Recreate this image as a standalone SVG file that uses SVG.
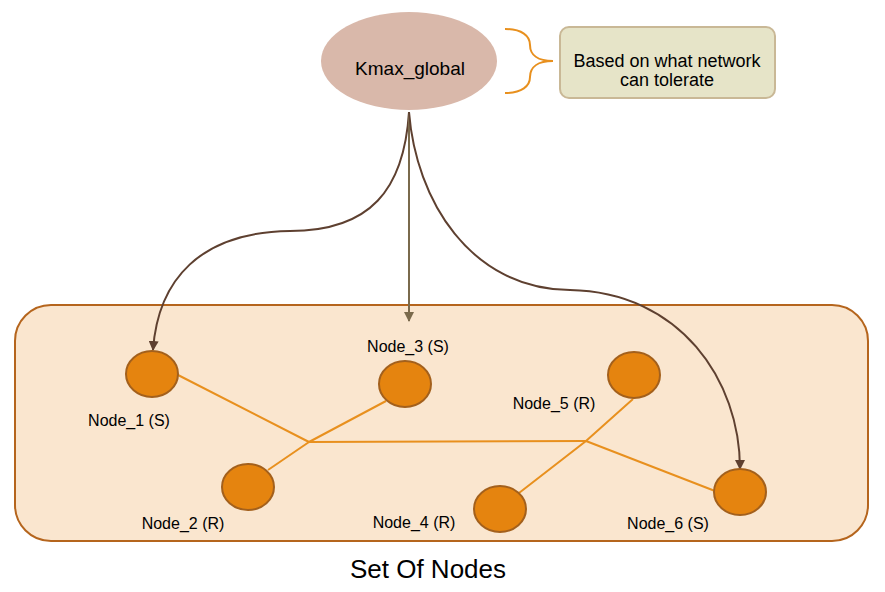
<svg xmlns="http://www.w3.org/2000/svg" width="885" height="592" viewBox="0 0 885 592">
<defs>
<style>
.node{fill:#e5840f;stroke:#a3601c;stroke-width:2}
.lbl{font-family:"Liberation Sans",Arial,sans-serif;font-size:16px;fill:#000;text-anchor:middle}
.link{stroke:#e8901e;stroke-width:2;fill:none}
.arr{stroke:#5e4030;stroke-width:2;fill:none}
</style>
<marker id="ah" markerWidth="10" markerHeight="10" refX="9" refY="5" orient="auto" markerUnits="userSpaceOnUse">
<path d="M0,0 L10,5 L0,10 z" fill="#5e4030"/>
</marker>
<marker id="ah2" markerWidth="10" markerHeight="10" refX="9" refY="5" orient="auto" markerUnits="userSpaceOnUse">
<path d="M0,0 L10,5 L0,10 z" fill="#7a6a4c"/>
</marker>
</defs>
<rect width="885" height="592" fill="#fff"/>
<g id="container">
<rect x="15" y="305" width="853" height="236" rx="36" fill="#fae6cf" stroke="#b5651d" stroke-width="2"/>
<text x="428" y="578" font-family="Liberation Sans,Arial,sans-serif" font-size="26" text-anchor="middle" fill="#000">Set Of Nodes</text>
</g>
<g id="kmax">
<ellipse cx="409" cy="61" rx="88" ry="49" fill="#d9b8aa"/>
<text x="410" y="75" font-family="Liberation Sans,Arial,sans-serif" font-size="19" text-anchor="middle" fill="#000">Kmax_global</text>
</g>
<g id="note">
<path d="M505,29 C522,29 530,36 530,45 C530,55 538,61 553,61 C538,61 530,67 530,77 C530,86 522,93 505,93" fill="none" stroke="#e8901e" stroke-width="2"/>
<rect x="560" y="27" width="215" height="71" rx="9" fill="#e6e4c8" stroke="#c9b896" stroke-width="2"/>
<text x="667" y="67" font-family="Liberation Sans,Arial,sans-serif" font-size="18" text-anchor="middle" fill="#000">Based on what network</text>
<text x="667" y="86" font-family="Liberation Sans,Arial,sans-serif" font-size="18" text-anchor="middle" fill="#000">can tolerate</text>
</g>
<g id="connectors">
<polyline class="link" points="178,375 309,442 386,401"/>
<line class="link" x1="268" y1="470" x2="309" y2="442"/>
<line class="link" x1="309" y1="442" x2="586" y2="441"/>
<polyline class="link" points="633,399 586,441 519,493"/>
<line class="link" x1="586" y1="441" x2="715" y2="491"/>
<path class="arr" d="M409,112 C404,190 370,231 290,231 C200,232 158,280 153,350" marker-end="url(#ah)"/>
<line x1="409" y1="112" x2="409" y2="321" stroke="#7a6a4c" stroke-width="2" marker-end="url(#ah2)"/>
<path class="arr" d="M409,112 C416,200 470,289 570,290 C680,292 740,380 740,469" marker-end="url(#ah)"/>
</g>
<g id="node1"><ellipse class="node" cx="152" cy="374" rx="26" ry="23"/><text class="lbl" x="129" y="426">Node_1 (S)</text></g>
<g id="node2"><ellipse class="node" cx="248" cy="487" rx="26" ry="23"/><text class="lbl" x="183" y="529">Node_2 (R)</text></g>
<g id="node3"><ellipse class="node" cx="405" cy="384" rx="26" ry="23"/><text class="lbl" x="408" y="352">Node_3 (S)</text></g>
<g id="node4"><ellipse class="node" cx="500" cy="509" rx="26" ry="23"/><text class="lbl" x="414" y="528">Node_4 (R)</text></g>
<g id="node5"><ellipse class="node" cx="634" cy="375" rx="26" ry="23"/><text class="lbl" x="554" y="409">Node_5 (R)</text></g>
<g id="node6"><ellipse class="node" cx="740" cy="492" rx="26" ry="23"/><text class="lbl" x="668" y="529">Node_6 (S)</text></g>
</svg>
